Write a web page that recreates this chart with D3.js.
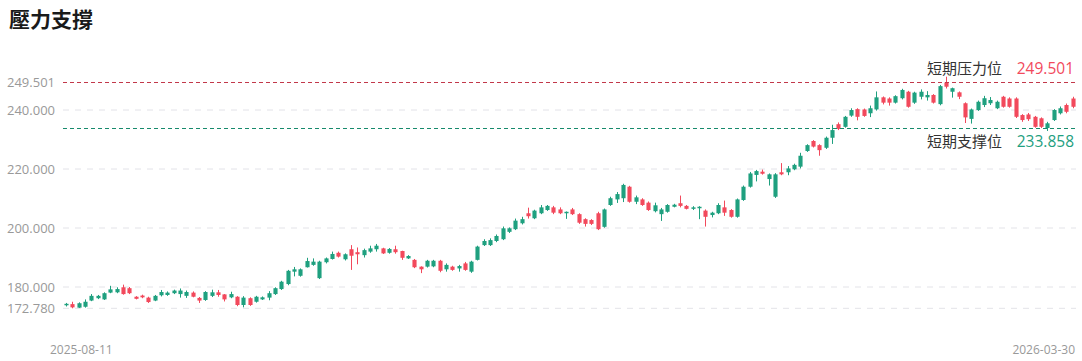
<!DOCTYPE html>
<html><head><meta charset="utf-8">
<script src="https://cdn.jsdelivr.net/npm/d3@7"></script>
<style>
body{margin:0;background:#fff;}
svg{display:block;font-family:"Noto Sans","Noto Sans CJK TC",sans-serif;}
</style>
</head><body>
<svg id="c" width="1082" height="361"></svg>
<script>
const title = "壓力支撐";
const startDate = "2025-08-11", endDate = "2026-03-30";
const holidays = ["2025-09-01","2025-11-27","2025-12-25","2026-01-01","2026-01-19","2026-02-16"];
const openV = [173.8,174.2,173.0,173.3,175.4,176.2,175.8,178.1,178.2,179.9,179.6,176.7,177.1,176.4,175.4,177.2,177.3,177.9,177.6,177.0,
178.1,176.3,175.6,177.0,178.2,177.5,176.5,176.7,173.9,176.2,175.0,175.8,176.4,177.6,179.3,181.0,185.2,183.8,186.7,187.5,
183.0,188.4,189.5,191.6,189.4,192.8,191.8,190.8,192.0,192.8,193.1,191.6,192.8,192.2,189.7,189.2,186.9,186.9,187.0,188.9,
186.0,186.9,186.3,188.0,185.2,189.2,194.2,194.2,195.6,196.2,198.7,199.6,201.6,205.0,203.3,205.0,206.1,207.0,206.3,205.0,
206.3,204.7,203.0,202.7,205.0,200.4,207.8,209.7,210.1,214.0,208.9,209.7,208.6,205.7,204.7,205.5,207.2,208.4,207.5,206.5,
206.7,205.9,204.4,205.0,207.0,206.1,203.8,209.5,214.0,218.0,219.1,216.6,210.6,218.9,218.9,219.9,220.8,226.1,229.5,228.1,
227.2,230.6,235.2,234.3,238.1,240.3,240.2,238.9,240.2,244.3,243.9,242.5,244.0,246.2,242.5,244.5,244.3,245.1,242.0,249.3,
246.2,246.0,242.3,237.0,240.0,241.7,242.3,240.6,244.5,243.9,243.9,238.3,238.5,237.7,237.2,233.9,236.6,238.9,241.7,243.9];
const highV = [174.6,175.0,174.8,175.8,177.6,177.3,178.2,180.4,179.9,180.8,180.0,176.9,177.4,176.7,177.3,179.0,178.5,179.1,179.5,178.8,
178.5,176.6,178.6,179.1,179.0,177.6,178.4,176.9,176.9,176.5,177.0,176.8,178.6,179.9,182.1,185.8,186.8,186.3,189.9,189.7,
188.9,190.0,192.0,192.0,191.4,194.2,193.4,193.0,194.0,194.6,193.3,193.2,194.0,192.3,190.8,189.5,187.0,189.2,189.2,189.2,
188.0,187.2,187.5,188.5,188.9,194.0,196.2,196.5,197.8,200.5,200.2,203.2,203.8,206.9,206.2,207.8,207.8,207.5,207.0,205.6,
206.8,205.0,203.3,203.0,205.5,206.6,210.6,212.2,215.0,214.3,211.0,210.1,209.0,208.6,206.8,208.1,208.2,211.0,207.8,207.4,
207.4,206.3,205.5,208.4,209.3,206.4,210.0,214.4,219.0,219.7,219.8,218.5,218.6,222.0,221.0,221.8,225.5,228.4,229.8,228.4,
231.0,235.0,235.8,238.0,240.6,240.6,240.5,241.5,246.3,244.6,244.3,245.0,247.2,246.5,246.2,247.0,246.4,245.4,248.5,251.3,
247.6,246.3,242.6,240.5,243.2,244.8,244.4,243.2,244.8,244.3,244.3,238.6,239.0,238.0,237.5,236.0,240.3,241.2,242.2,244.5];
const lowV = [173.4,172.78,172.9,173.0,175.2,175.9,175.6,177.9,177.9,177.4,177.6,175.8,176.2,174.6,175.2,176.8,177.0,177.6,176.4,176.3,
176.5,174.6,175.3,176.6,176.7,175.1,176.2,173.5,173.1,173.6,174.7,175.6,175.5,177.3,179.0,180.6,183.6,183.5,186.6,187.2,
182.7,188.0,189.3,190.0,189.0,185.8,187.7,190.0,191.6,192.0,191.2,191.3,191.3,189.2,189.5,186.4,184.7,186.6,186.7,185.0,
185.2,185.5,185.2,185.5,184.8,189.0,193.9,193.9,195.2,195.9,198.3,199.3,201.2,203.2,203.0,204.7,205.8,204.7,204.7,203.1,
204.4,201.4,200.5,201.0,199.3,200.1,207.5,208.5,208.8,208.6,208.1,207.5,205.8,205.3,202.4,205.2,207.0,207.0,206.3,206.1,
203.0,200.5,203.6,204.7,204.1,203.5,203.5,209.2,213.7,215.8,218.1,214.4,210.2,217.9,217.9,219.6,220.2,225.8,227.3,224.5,
226.8,228.5,233.2,234.0,237.7,236.5,237.7,237.6,239.8,241.9,241.5,242.2,243.6,240.8,242.1,243.6,243.2,242.2,241.6,247.3,
244.2,243.7,235.6,235.4,239.7,241.0,241.7,240.3,240.8,240.8,237.3,236.0,236.3,234.0,233.9,232.9,236.3,238.5,238.9,240.6];
const closeV = [174.3,173.1,174.5,175.0,177.0,177.0,177.9,179.2,179.3,177.6,177.9,176.0,176.5,174.9,177.0,178.3,178.1,178.8,178.8,178.3,
176.7,175.4,178.3,178.2,177.3,175.8,177.6,173.9,176.4,173.9,176.7,176.5,177.9,179.6,181.8,185.5,186.0,186.0,188.8,188.6,
188.6,189.7,191.2,190.3,191.1,190.6,191.1,192.5,193.1,194.0,191.4,192.9,191.8,189.9,190.5,186.7,186.0,188.9,188.9,185.5,
187.5,185.8,187.1,185.8,188.6,193.7,195.6,195.9,197.3,199.9,199.9,202.5,203.0,204.0,205.9,207.0,207.5,205.2,205.0,205.5,
204.7,201.8,201.4,201.4,199.6,206.3,210.1,211.5,214.6,208.9,210.4,207.8,206.1,207.7,206.3,207.8,207.9,207.5,206.5,207.0,
207.2,203.8,205.2,207.8,205.2,203.8,209.7,214.0,218.5,219.3,218.4,218.2,218.2,218.2,220.2,221.4,224.5,228.1,227.6,226.4,
230.6,233.2,233.6,237.7,240.0,237.7,238.0,240.6,244.3,242.5,242.5,244.7,246.8,241.1,245.9,246.2,245.1,242.5,248.1,247.9,
247.4,244.5,237.5,240.2,242.8,244.0,243.4,242.8,241.1,241.1,237.7,236.6,236.9,234.3,234.3,235.5,240.0,240.6,239.4,241.1];
const yTickValues = [172.78, 180, 200, 220, 240, 249.501];
const resistance = 249.501, support = 233.858;
const resistanceLabel = "短期压力位", supportLabel = "短期支撑位";

const upColor = "#1fa07f", downColor = "#f2495c";
const parse = d3.timeParse("%Y-%m-%d"), fmt = d3.timeFormat("%Y-%m-%d");
const hol = new Set(holidays);
const dates = d3.timeDays(parse(startDate), d3.timeDay.offset(parse(endDate), 1))
  .filter(d => d.getDay() !== 0 && d.getDay() !== 6 && !hol.has(fmt(d)))
  .map(fmt);
const data = dates.map((d, i) => ({date: d, o: openV[i], h: highV[i], l: lowV[i], c: closeV[i]}))
  .filter(d => d.o !== undefined);
const xTickLabels = [dates[0], dates[dates.length - 1]];

const svg = d3.select("#c");
const x = d3.scaleBand().domain(data.map(d => d.date)).range([62.8, 1075.8]).paddingInner(0.35).paddingOuter(0.175);
const y = d3.scaleLinear().domain([172.78, 249.501]).range([308.3, 82]);
const x0 = 63, x1 = 1076;

svg.append("text").attr("x", 9).attr("y", 27).attr("font-size", 21).attr("font-weight", 600)
  .attr("fill", "#1a1a1a").attr("font-family", "'Noto Sans CJK TC',sans-serif").text(title);

// grid lines
const grid = yTickValues.filter(v => v !== resistance);
svg.append("g").selectAll("line").data(grid).join("line")
  .attr("x1", x0).attr("x2", x1).attr("y1", d => y(d)).attr("y2", d => y(d))
  .attr("stroke", "#e3e3e8").attr("stroke-dasharray", "6,6");

// y axis labels
const yAxis = d3.axisLeft(y).tickValues(yTickValues).tickFormat(d3.format(".3f")).tickSize(0).tickPadding(0);
const ga = svg.append("g").attr("transform", "translate(55,0)").call(yAxis);
ga.select(".domain").remove();
ga.selectAll("text").attr("fill", "#999").attr("font-size", 13).attr("font-family", "'Open Sans',sans-serif");

// candles
const g = svg.append("g");
const cx = d => x(d.date) + x.bandwidth() / 2;
const col = d => d.c >= d.o ? upColor : downColor;
g.selectAll("line.w").data(data).join("line").attr("class", "w")
  .attr("x1", d => Math.round(cx(d)) + 0.5).attr("x2", d => Math.round(cx(d)) + 0.5)
  .attr("y1", d => y(d.h)).attr("y2", d => y(d.l)).attr("stroke", col).attr("stroke-width", 1);
g.selectAll("rect").data(data).join("rect")
  .attr("x", d => Math.round(cx(d)) + 0.5 - x.bandwidth() / 2).attr("width", x.bandwidth())
  .attr("y", d => y(Math.max(d.o, d.c)))
  .attr("height", d => Math.max(1, Math.abs(y(d.o) - y(d.c))))
  .attr("fill", col);

// resistance / support lines
svg.append("line").attr("x1", x0).attr("x2", x1).attr("y1", Math.round(y(resistance)) + 0.5).attr("y2", Math.round(y(resistance)) + 0.5)
  .attr("stroke", "#c2384a").attr("stroke-dasharray", "4,3");
svg.append("line").attr("x1", x0).attr("x2", x1).attr("y1", Math.round(y(support)) + 0.5).attr("y2", Math.round(y(support)) + 0.5)
  .attr("stroke", "#178a6c").attr("stroke-dasharray", "4,3");

const lab = (txt, val, yy, c) => {
  svg.append("text").attr("x", 1002).attr("y", yy).attr("text-anchor", "end").attr("font-size", 15)
    .attr("fill", "#333").attr("font-family", "'Noto Sans CJK SC',sans-serif").text(txt);
  svg.append("text").attr("x", 1074).attr("y", yy).attr("text-anchor", "end").attr("font-size", 15.5)
    .attr("fill", c).attr("font-family", "'Open Sans',sans-serif").text(d3.format(".3f")(val));
};
lab(resistanceLabel, resistance, 74, downColor);
lab(supportLabel, support, 147, upColor);

// x labels
svg.append("text").attr("x", 50).attr("y", 354).attr("font-size", 12).attr("fill", "#999")
  .attr("font-family", "'Open Sans',sans-serif").text(xTickLabels[0]);
svg.append("text").attr("x", 1075).attr("y", 354).attr("text-anchor", "end").attr("font-size", 12).attr("fill", "#999")
  .attr("font-family", "'Open Sans',sans-serif").text(xTickLabels[1]);
</script>
</body></html>
